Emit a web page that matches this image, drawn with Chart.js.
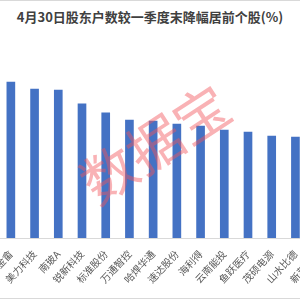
<!DOCTYPE html>
<html lang="zh">
<head>
    <meta charset="UTF-8">
    <title>股东户数降幅</title>
    <script src="https://cdn.jsdelivr.net/npm/chart.js"></script>
    <style>
        body {
            margin: 0;
            width: 300px;
            height: 300px;
            overflow: hidden;
            position: relative;
            background: #fff;
        }

        .frame-top, .frame-bottom {
            position: absolute;
            left: 0;
            width: 300px;
            height: 1px;
            background: #d9d9d9;
        }
        .frame-top { top: 0; }
        .frame-bottom { top: 298px; }

        h1 {
            position: absolute;
            top: 7px;
            left: 0;
            width: 300px;
            margin: 0;
            text-align: center;
            font-family: 'Noto Sans CJK SC', sans-serif;
            font-size: 13px;
            font-weight: bold;
            color: #404040;
            white-space: nowrap;
        }

        /* canvas is a bit wider than the window: the picture is cropped on both sides */
        #holderChart {
            position: absolute;
            left: -1px;
            top: 40px;
        }
    </style>
</head>
<body>
    <div class="frame-top"></div>
    <h1>4月30日股东户数较一季度末降幅居前个股(%)</h1>
    <canvas id="holderChart" width="332" height="260"></canvas>
    <div class="frame-bottom"></div>

    <script>
        // categories and values
        const stocks = ['金畲', '美力科技', '南玻A', '锐新科技', '标准股份', '万通智控', '哈焊华通',
                        '速达股份', '海利得', '云南能投', '鱼跃医疗', '茂硕电源', '山水比德', '新莱应材'];
        const declines = [31.5, 30.1, 29.9, 27.1, 25.3, 23.8, 23.6, 23.0, 22.6, 21.8, 21.4, 20.6, 20.4, 20.0];
        const watermark = '数据宝';

        // pink watermark over the bars
        const watermarkPlugin = {
            id: 'watermark',
            afterDatasetsDraw(chart) {
                const c = chart.ctx;
                c.save();
                c.translate(156, 104);
                c.rotate(-33 * Math.PI / 180);
                c.font = '55px "Noto Sans CJK SC", sans-serif';
                c.fillStyle = 'rgba(242, 85, 90, 0.45)';
                c.textAlign = 'center';
                c.textBaseline = 'middle';
                c.fillText(watermark, 0, 0);
                c.restore();
            }
        };

        const ctx = document.getElementById('holderChart').getContext('2d');
        const holderChart = new Chart(ctx, {
            type: 'bar',
            data: {
                labels: stocks,
                datasets: [{
                    label: '降幅(%)',
                    data: declines,
                    backgroundColor: '#4472C4',
                    barThickness: 8
                }]
            },
            options: {
                responsive: false,
                animation: false,
                layout: { padding: 0 },
                plugins: {
                    legend: { display: false },
                    tooltip: { enabled: false }
                },
                scales: {
                    x: {
                        grid: { display: false, drawTicks: false },
                        border: { display: true, color: '#d9d9d9', width: 1 },
                        ticks: {
                            minRotation: 47,
                            maxRotation: 47,
                            autoSkip: false,
                            padding: 10,
                            color: '#595959',
                            font: { family: 'Noto Sans CJK SC', size: 10 }
                        },
                        afterFit(scale) {
                            scale.paddingLeft = 0;
                            scale.paddingRight = 0;
                            scale.height = 62;
                        }
                    },
                    y: {
                        display: false,
                        min: 0,
                        max: 40
                    }
                }
            },
            plugins: [watermarkPlugin]
        });
    </script>
</body>
</html>
